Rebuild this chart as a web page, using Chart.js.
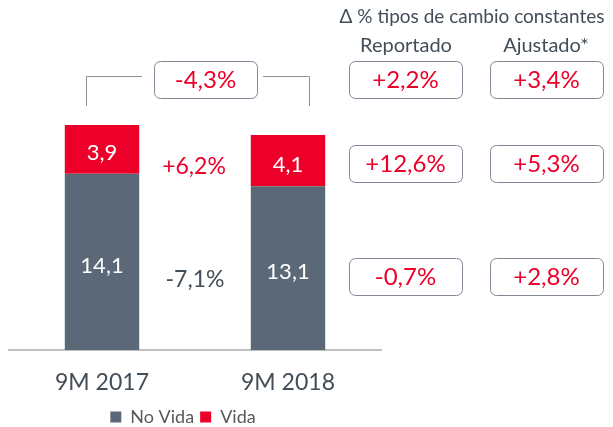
<!DOCTYPE html>
<html>
<head>
<meta charset="utf-8">
<script src="https://cdn.jsdelivr.net/npm/chart.js@4"></script>
<style>
  html, body { margin: 0; padding: 0; background: #fff; }
  #wrap { width: 613px; height: 427px; position: relative; }
</style>
</head>
<body>
<div id="wrap"><canvas id="grafico" width="613" height="427"></canvas></div>
<script>
const categorias = ["9M 2017", "9M 2018"];
const noVida = [14.1, 13.1];
const vida = [3.9, 4.1];

// variaciones
const varTotal = "-4,3%";
const varVida = "+6,2%";
const varNoVida = "-7,1%";
const reportado = ["+2,2%", "+12,6%", "-0,7%"];
const ajustado = ["+3,4%", "+5,3%", "+2,8%"];

const GRIS = "#5b6877";
const ROJO = "#ec0029";
const TEXTO = "#434d57";
const FUENTE = "Lato, 'Open Sans', sans-serif";

const fmt = v => v.toFixed(1).replace(".", ",");

function caja(ctx, x, y, w, h, texto) {
  ctx.save();
  ctx.strokeStyle = "#7d8894";
  ctx.lineWidth = 1;
  ctx.beginPath();
  ctx.roundRect(x + 0.5, y + 0.5, w, h, 6);
  ctx.stroke();
  ctx.fillStyle = ROJO;
  ctx.font = "24px " + FUENTE;
  ctx.textAlign = "center";
  ctx.textBaseline = "middle";
  ctx.fillText(texto, x + w / 2, y + h / 2 + 1);
  ctx.restore();
}

const etiquetas = {
  id: "etiquetas",
  afterLayout(chart) {
    // leyenda un poco a la izquierda, como en el original
    chart.legend.left -= 12;
    chart.legend.right -= 12;
  },
  afterDatasetsDraw(chart) {
    const ctx = chart.ctx;
    ctx.save();
    ctx.fillStyle = "#fff";
    ctx.font = "22px " + FUENTE;
    ctx.textAlign = "center";
    ctx.textBaseline = "middle";
    chart.data.datasets.forEach((ds, i) => {
      chart.getDatasetMeta(i).data.forEach((bar, j) => {
        const yc = (bar.y + bar.base) / 2;
        ctx.fillText(fmt(ds.data[j]), bar.x, yc + 4);
      });
    });

    const xs = chart.scales.x;
    const medio = (xs.getPixelForValue(0) + xs.getPixelForValue(1)) / 2;
    ctx.font = "23px " + FUENTE;
    ctx.fillStyle = ROJO;
    ctx.fillText(varVida, medio - 1, 167);
    ctx.fillStyle = TEXTO;
    ctx.fillText(varNoVida, medio, 280);

    // corchete
    ctx.strokeStyle = "#8a949e";
    ctx.lineWidth = 1;
    ctx.beginPath();
    ctx.moveTo(86.5, 106); ctx.lineTo(86.5, 76.5); ctx.lineTo(142, 76.5);
    ctx.moveTo(263, 76.5); ctx.lineTo(309.5, 76.5); ctx.lineTo(309.5, 106);
    ctx.stroke();
    caja(ctx, 154, 61, 103, 37, varTotal);

    // tabla derecha
    ctx.fillStyle = TEXTO;
    ctx.font = "19px " + FUENTE;
    ctx.fillText("Δ % tipos de cambio constantes", 472, 17);
    ctx.font = "20px " + FUENTE;
    ctx.fillText("Reportado", 406, 46);
    ctx.fillText("Ajustado*", 546, 46);
    const filas = [61, 145, 258];
    filas.forEach((y, k) => {
      caja(ctx, 349, y, 113, 37, reportado[k]);
      caja(ctx, 490, y, 113, 37, ajustado[k]);
    });
    ctx.restore();
  }
};

new Chart(document.getElementById("grafico"), {
  type: "bar",
  data: {
    labels: categorias,
    datasets: [
      { label: "No Vida", data: noVida, backgroundColor: GRIS },
      { label: "Vida", data: vida, backgroundColor: ROJO }
    ]
  },
  options: {
    responsive: false,
    animation: false,
    categoryPercentage: 0.4,
    barPercentage: 1,
    layout: { padding: { left: 9, right: 232, top: 0, bottom: -9 } },
    plugins: {
      legend: {
        position: "bottom",
        labels: {
          boxWidth: 11, boxHeight: 11, padding: 6,
          color: "#595959",
          font: { family: FUENTE, size: 18 }
        }
      },
      tooltip: { enabled: false }
    },
    scales: {
      x: {
        stacked: true,
        grid: { display: false, drawTicks: false },
        border: { color: "#c0c0c0", width: 2 },
        ticks: { color: TEXTO, padding: 19, font: { family: FUENTE, size: 23 } },
        afterFit(scale) { scale.height = 52; }
      },
      y: {
        stacked: true,
        display: false,
        min: 0,
        max: 28
      }
    }
  },
  plugins: [etiquetas]
});
</script>
</body>
</html>
